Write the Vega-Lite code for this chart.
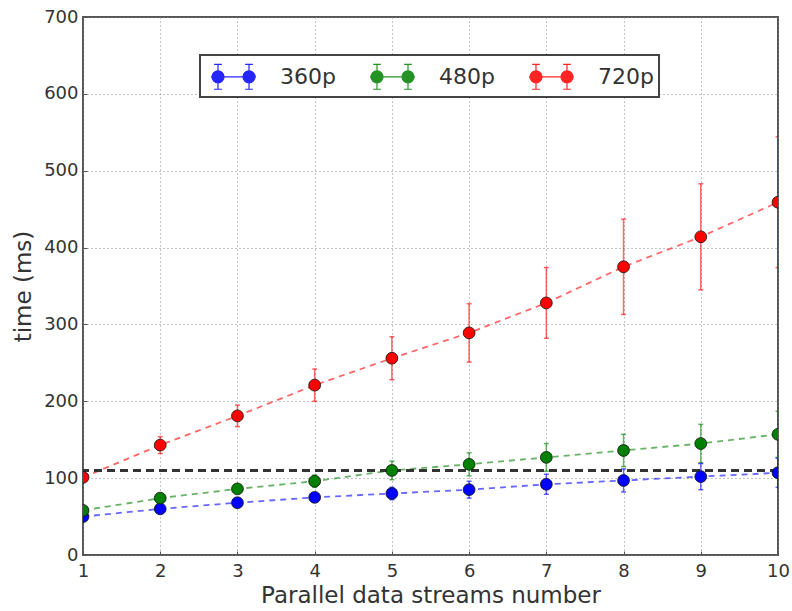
{
  "$schema": "https://vega.github.io/schema/vega-lite/v6.json",
  "width": 695,
  "height": 538,
  "autosize": {"type": "none"},
  "padding": {"left": 83, "top": 17, "right": 14, "bottom": 56},
  "background": "white",
  "config": {
    "font": "DejaVu Sans",
    "view": {"stroke": "#555", "strokeWidth": 2},
    "axis": {
      "domain": false,
      "grid": true,
      "gridColor": "#888",
      "gridDash": [1, 3],
      "gridWidth": 1,
      "tickColor": "#555",
      "tickSize": -4,
      "tickWidth": 1,
      "labelFont": "DejaVu Sans",
      "labelFontSize": 18,
      "labelColor": "#333",
      "labelFlush": false,
      "titleFont": "DejaVu Sans",
      "titleFontSize": 23,
      "titleFontWeight": "normal",
      "titleColor": "#333"
    }
  },
  "data": {
    "values": [
      {"x": 1, "res": "360p", "t": 50, "lo": 47, "hi": 53},
      {"x": 2, "res": "360p", "t": 60, "lo": 56, "hi": 64},
      {"x": 3, "res": "360p", "t": 68, "lo": 63, "hi": 73},
      {"x": 4, "res": "360p", "t": 75, "lo": 69, "hi": 81},
      {"x": 5, "res": "360p", "t": 80, "lo": 72, "hi": 88},
      {"x": 6, "res": "360p", "t": 85, "lo": 74, "hi": 96},
      {"x": 7, "res": "360p", "t": 92, "lo": 79, "hi": 105},
      {"x": 8, "res": "360p", "t": 97, "lo": 82, "hi": 112},
      {"x": 9, "res": "360p", "t": 102, "lo": 85, "hi": 119},
      {"x": 10, "res": "360p", "t": 107, "lo": 88, "hi": 126},
      {"x": 1, "res": "480p", "t": 58, "lo": 55, "hi": 61},
      {"x": 2, "res": "480p", "t": 74, "lo": 70, "hi": 78},
      {"x": 3, "res": "480p", "t": 86, "lo": 81, "hi": 91},
      {"x": 4, "res": "480p", "t": 96, "lo": 88, "hi": 104},
      {"x": 5, "res": "480p", "t": 110, "lo": 98, "hi": 122},
      {"x": 6, "res": "480p", "t": 118, "lo": 103, "hi": 133},
      {"x": 7, "res": "480p", "t": 127, "lo": 109, "hi": 145},
      {"x": 8, "res": "480p", "t": 136, "lo": 115, "hi": 157},
      {"x": 9, "res": "480p", "t": 145, "lo": 120, "hi": 170},
      {"x": 10, "res": "480p", "t": 157, "lo": 127, "hi": 187},
      {"x": 1, "res": "720p", "t": 101, "lo": 95, "hi": 107},
      {"x": 2, "res": "720p", "t": 143, "lo": 132, "hi": 154},
      {"x": 3, "res": "720p", "t": 181, "lo": 167, "hi": 195},
      {"x": 4, "res": "720p", "t": 221, "lo": 200, "hi": 242},
      {"x": 5, "res": "720p", "t": 256, "lo": 228, "hi": 284},
      {"x": 6, "res": "720p", "t": 289, "lo": 251, "hi": 327},
      {"x": 7, "res": "720p", "t": 328, "lo": 282, "hi": 374},
      {"x": 8, "res": "720p", "t": 375, "lo": 313, "hi": 437},
      {"x": 9, "res": "720p", "t": 414, "lo": 345, "hi": 483},
      {"x": 10, "res": "720p", "t": 459, "lo": 374, "hi": 544}
    ]
  },
  "layer": [
    {
      "mark": {"type": "line", "strokeDash": [6, 5], "strokeWidth": 1.8, "opacity": 0.6, "clip": true},
      "encoding": {
        "x": {
          "field": "x",
          "type": "quantitative",
          "scale": {"domain": [1, 10], "nice": false, "zero": false},
          "axis": {"values": [1, 2, 3, 4, 5, 6, 7, 8, 9, 10], "format": "d", "title": "Parallel data streams number", "labelPadding": 11, "titlePadding": 4}
        },
        "y": {
          "field": "t",
          "type": "quantitative",
          "scale": {"domain": [0, 700], "nice": false},
          "axis": {"values": [0, 100, 200, 300, 400, 500, 600, 700], "format": "d", "title": "time (ms)", "labelPadding": 9, "titlePadding": 8}
        },
        "color": {
          "field": "res",
          "type": "nominal",
          "scale": {"domain": ["360p", "480p", "720p"], "range": ["#0000ff", "#008000", "#ff0000"]},
          "legend": {
            "orient": "none",
            "legendX": 117,
            "legendY": 38,
            "direction": "horizontal",
            "title": null,
            "padding": 5,
            "fillColor": "white",
            "strokeColor": "#444",
            "labelFont": "DejaVu Sans",
            "labelFontSize": 22,
            "labelColor": "#333",
            "labelOffset": 30,
            "symbolOffset": 12,
            "columnPadding": 28,
            "symbolSize": 961,
            "symbolStrokeWidth": 1.2,
            "symbolDash": [],
            "symbolOpacity": 0.85,
            "symbolType": "M-1.45,0H1.45M-1,-0.8V0.8M1,-0.8V0.8M-1.25,-0.8H-0.75M-1.25,0.8H-0.75M0.75,-0.8H1.25M0.75,0.8H1.25M-0.61,0A0.39,0.39 0 1,1 -1.39,0A0.39,0.39 0 1,1 -0.61,0ZM1.39,0A0.39,0.39 0 1,1 0.61,0A0.39,0.39 0 1,1 1.39,0Z",
            "encode": {
              "symbols": {
                "update": {
                  "fill": {"signal": "scale('color', datum.value)"}
                }
              },
              "legend": {
                "update": {
                  "strokeWidth": {"value": 2}
                }
              }
            }
          }
        }
      }
    },
    {
      "mark": {"type": "errorbar", "ticks": true, "clip": true, "opacity": 0.6, "thickness": 1.5},
      "encoding": {
        "x": {"field": "x", "type": "quantitative", "title": "Parallel data streams number"},
        "y": {"field": "lo", "type": "quantitative", "title": "time (ms)"},
        "y2": {"field": "hi"},
        "color": {"field": "res", "type": "nominal"}
      }
    },
    {
      "mark": {"type": "rule", "color": "#333", "strokeDash": [8, 5], "strokeWidth": 1.4, "opacity": 0.7},
      "encoding": {
        "y": {"datum": 110, "type": "quantitative"}
      }
    },
    {
      "mark": {"type": "point", "filled": true, "size": 140, "opacity": 1, "stroke": "#111", "strokeWidth": 0.8, "clip": true},
      "encoding": {
        "x": {"field": "x", "type": "quantitative", "title": "Parallel data streams number"},
        "y": {"field": "t", "type": "quantitative", "title": "time (ms)"},
        "color": {"field": "res", "type": "nominal"}
      }
    }
  ]
}
